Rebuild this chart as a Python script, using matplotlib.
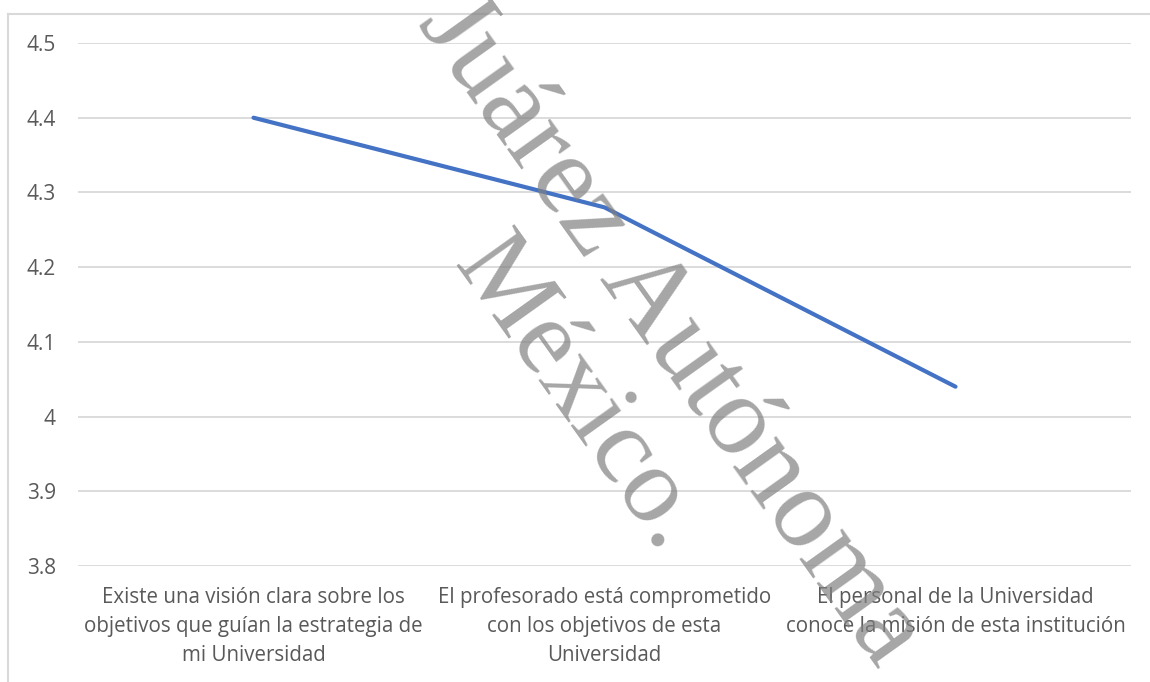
import matplotlib.pyplot as plt
from matplotlib.lines import Line2D

# datos
categorias = [
    "Existe una visión clara sobre los\nobjetivos que guían la estrategia de\nmi Universidad",
    "El profesorado está comprometido\ncon los objetivos de esta\nUniversidad",
    "El personal de la Universidad\nconoce la misión de esta institución",
]
medias = [4.4, 4.28, 4.04]
yticks = [3.8, 3.9, 4.0, 4.1, 4.2, 4.3, 4.4, 4.5]
ytick_labels = ["3.8", "3.9", "4", "4.1", "4.2", "4.3", "4.4", "4.5"]
marca_agua = ["Juárez Autónoma", "México."]

W, H = 1150, 682
fig = plt.figure(figsize=(W / 100, H / 100), dpi=100)
ax = fig.add_axes([78 / W, 1 - 566 / H, (1131 - 78) / W, (566 - 43) / H])

gris = "#595959"
for y in yticks:
    ax.axhline(y, color="#D9D9D9", lw=1.3, zorder=1)

x = list(range(len(categorias)))
ax.plot(x, medias, color="#4472C4", lw=3, solid_capstyle="round", zorder=3)

ax.set_xlim(-0.5, len(categorias) - 0.5)
ax.set_ylim(3.8, 4.5)
ax.set_yticks(yticks)
ax.set_yticklabels(ytick_labels, fontsize=15, color=gris, family="Open Sans")
ax.set_xticks(x)
ax.set_xticklabels(categorias, fontsize=14.8, color=gris, family="Open Sans", linespacing=1.5)
ax.tick_params(axis="y", length=0, pad=16)
ax.tick_params(axis="x", length=0, pad=15)
for s in ax.spines.values():
    s.set_visible(False)

# marco del grafico
fig.add_artist(Line2D([8 / W, 8 / W], [0, 1 - 14 / H], color="#D9D9D9", lw=1.5))
fig.add_artist(Line2D([8 / W, 1], [1 - 14 / H, 1 - 14 / H], color="#D9D9D9", lw=1.5))

# marca de agua
fig.text(417 / W, 1 - 23 / H, marca_agua[0], rotation=-54.5, rotation_mode="anchor",
         ha="left", va="baseline", fontsize=82, family="Liberation Serif",
         color="gray", alpha=0.7, zorder=10)
fig.text(453 / W, 1 - 265 / H, marca_agua[1], rotation=-54.5, rotation_mode="anchor",
         ha="left", va="baseline", fontsize=78, family="Liberation Serif",
         color="gray", alpha=0.7, zorder=10)

fig.savefig("out.png", dpi=100)
